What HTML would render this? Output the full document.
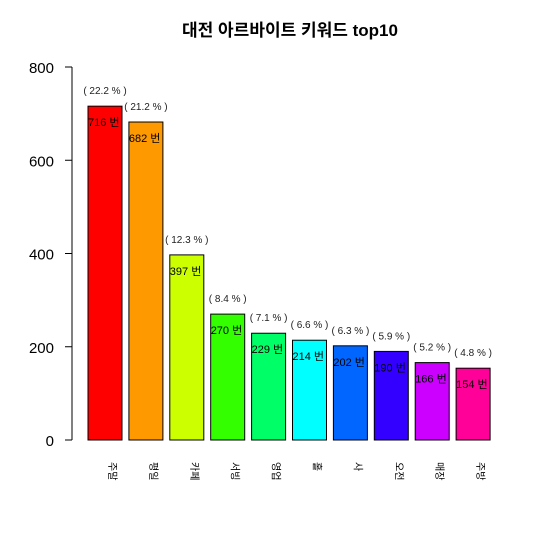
<!DOCTYPE html>
<html><head><meta charset="utf-8"><style>
body{margin:0;background:#fff;}
svg text{font-family:"Liberation Sans","Noto Sans CJK KR",sans-serif;}
</style></head><body>
<svg width="539" height="529" id="c">
<text x="290" y="36" text-anchor="middle" font-size="17" font-weight="bold">대전 아르바이트 키워드 top10</text>
</svg>
<script>
const categories=["주말","평일","카페","서빙","영업","홀","사","오전","매장","주방"];
const values=[716,682,397,270,229,214,202,190,166,154];
const percents=["22.2","21.2","12.3","8.4","7.1","6.6","6.3","5.9","5.2","4.8"];
const ticks=[0,200,400,600,800];
const colors=["#FF0000","#FF9900","#CCFF00","#33FF00","#00FF66","#00FFFF","#0066FF","#3300FF","#CC00FF","#FF0099"];
const svg=document.getElementById('c');
const NS="http://www.w3.org/2000/svg";
const y=v=>440-v*(373/800);
const xc=i=>105+i*40.9;
function mk(t,a){const e=document.createElementNS(NS,t);for(const k in a)e.setAttribute(k,a[k]);svg.appendChild(e);return e;}
const ax=mk('line',{x1:72,x2:72,y1:y(0),y2:y(800),stroke:'#000'});


ticks.forEach(t=>{
  const l=mk('line',{x1:65,x2:72,y1:y(t),y2:y(t),stroke:'#000'});
  
  
  const tx=mk('text',{x:54,y:y(t)+6,'text-anchor':'end','font-size':15});
  tx.textContent=t;
  
  
});
values.forEach((v,i)=>{
  const c=xc(i);
  const r=mk('rect',{x:c-17,y:y(v),width:34,height:y(0)-y(v),fill:colors[i],stroke:'#000'});
  
  
  const p=mk('text',{x:c,y:y(v)-12,'text-anchor':'middle','font-size':10,fill:'#222'});
  p.textContent='( '+percents[i]+' % )';
  
  
  const n=mk('text',{x:c-17,y:y(v)+20,'font-size':11});
  n.textContent=v+' 번';
  
  
  const cl=mk('text',{x:0,y:0,'font-size':10,transform:'translate('+(c+4)+',462) rotate(90)'});
  cl.textContent=categories[i];
  
  
});
</script>
</body></html>
